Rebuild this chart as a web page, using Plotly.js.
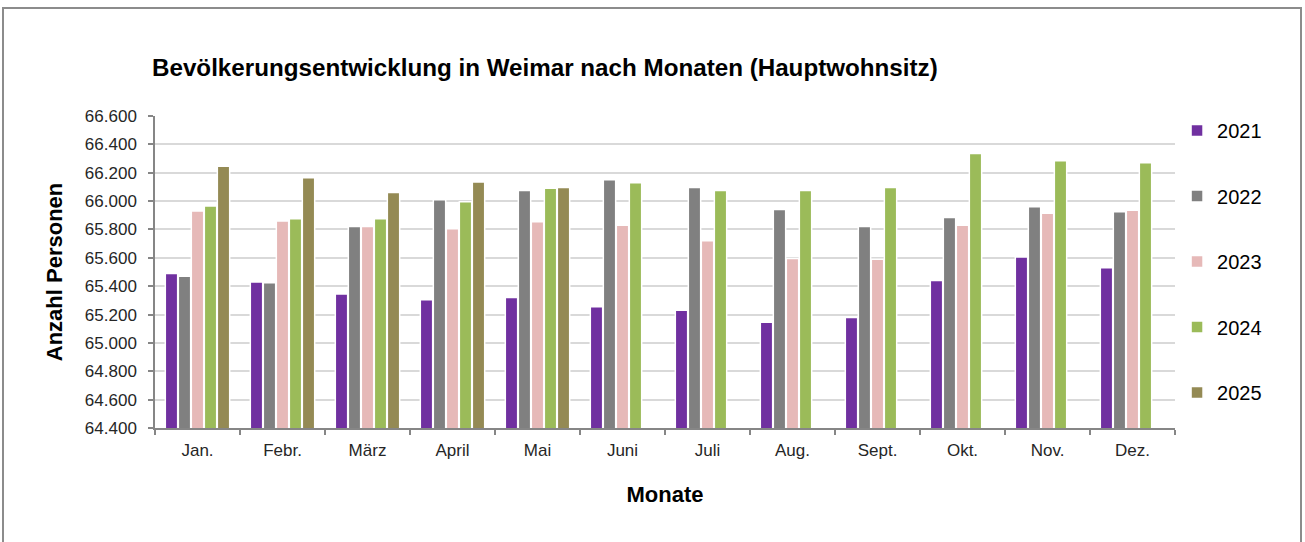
<!DOCTYPE html>
<html>
<head>
<meta charset="utf-8">
<script src="https://cdn.plot.ly/plotly-3.0.1.min.js"></script>
<style>
  html, body { margin: 0; padding: 0; background: #ffffff; }
  #chart { width: 1305px; height: 542px; }
</style>
</head>
<body>
<div id="chart"></div>
<script>
const months = ['Jan.', 'Febr.', 'März', 'April', 'Mai', 'Juni', 'Juli', 'Aug.', 'Sept.', 'Okt.', 'Nov.', 'Dez.'];
const years = ['2021', '2022', '2023', '2024', '2025'];
const v2021 = [65490, 65430, 65345, 65305, 65320, 65255, 65230, 65145, 65180, 65440, 65605, 65530];
const v2022 = [65470, 65425, 65820, 66010, 66075, 66150, 66095, 65940, 65820, 65885, 65960, 65925];
const v2023 = [65930, 65860, 65820, 65805, 65855, 65830, 65720, 65595, 65590, 65830, 65915, 65935];
const v2024 = [65965, 65875, 65875, 65995, 66090, 66130, 66075, 66075, 66095, 66335, 66285, 66270];
const v2025 = [66245, 66165, 66060, 66135, 66095, null, null, null, null, null, null, null];
const yTickVals = [64400, 64600, 64800, 65000, 65200, 65400, 65600, 65800, 66000, 66200, 66400, 66600];

const colors = ['#7030A0', '#808080', '#E6B9B8', '#9BBB59', '#948A54'];
const series = [v2021, v2022, v2023, v2024, v2025];

const font = 'Liberation Sans, Arial, sans-serif';

const traces = series.map((vals, i) => ({
  type: 'bar',
  name: years[i],
  x: months,
  y: vals,
  legendgroup: years[i],
  marker: { color: colors[i], line: { color: '#ffffff', width: 1.5 } },
  hovertemplate: '%{x} ' + years[i] + ': %{y}<extra></extra>'
}));

const layout = {
  width: 1305,
  height: 542,
  margin: { l: 155, r: 130, t: 116, b: 114 },
  paper_bgcolor: '#ffffff',
  plot_bgcolor: '#ffffff',
  separators: ',.',
  barmode: 'group',
  bargap: 0.235,
  bargroupgap: 0.05,
  font: { family: font, color: '#262626' },
  title: {
    text: 'Bevölkerungsentwicklung in Weimar nach Monaten (Hauptwohnsitz)',
    font: { family: font, size: 24.2, color: '#000000', weight: 'bold' },
    xref: 'container', x: 152 / 1305, xanchor: 'left',
    yref: 'container', y: 1 - 68 / 542, yanchor: 'middle'
  },
  xaxis: {
    type: 'category',
    tickson: 'boundaries',
    ticks: 'outside',
    ticklen: 5,
    tickcolor: '#868686',
    tickwidth: 1.5,
    showline: true,
    linecolor: '#868686',
    linewidth: 1.5,
    showgrid: false,
    tickfont: { family: font, size: 17, color: '#262626' },
    ticklabelstandoff: 6,
    title: { text: 'Monate', font: { family: font, size: 22, color: '#000000', weight: 'bold' }, standoff: 27 }
  },
  yaxis: {
    range: [64400, 66600],
    tickvals: yTickVals,
    tickformat: ',.0f',
    ticks: 'outside',
    ticklen: 5,
    tickcolor: '#868686',
    tickwidth: 1.5,
    showline: true,
    linecolor: '#868686',
    linewidth: 1.5,
    showgrid: true,
    gridcolor: '#D9D9D9',
    gridwidth: 1.5,
    zeroline: false,
    tickfont: { family: font, size: 17, color: '#262626' },
    ticklabelstandoff: 8,
    title: { text: 'Anzahl Personen', font: { family: font, size: 22, color: '#000000', weight: 'bold' }, standoff: 16 }
  },
  showlegend: true,
  legend: {
    x: 1.002, xanchor: 'left',
    y: 1.016, yanchor: 'top',
    maxheight: 420,
    traceorder: 'grouped',
    tracegroupgap: 36.5,
    font: { family: font, size: 20, color: '#000000' },
    bgcolor: 'rgba(0,0,0,0)'
  },
  shapes: [{
    type: 'rect', xref: 'paper', yref: 'paper',
    x0: (3 - 155) / 1020, x1: (1301 - 155) / 1020,
    y0: (428 - 548) / 312, y1: (428 - 8) / 312,
    line: { color: '#8C8C8C', width: 2 },
    fillcolor: 'rgba(0,0,0,0)',
    layer: 'below'
  }]
};

Plotly.newPlot('chart', traces, layout, { displayModeBar: false, responsive: false });
</script>
</body>
</html>
